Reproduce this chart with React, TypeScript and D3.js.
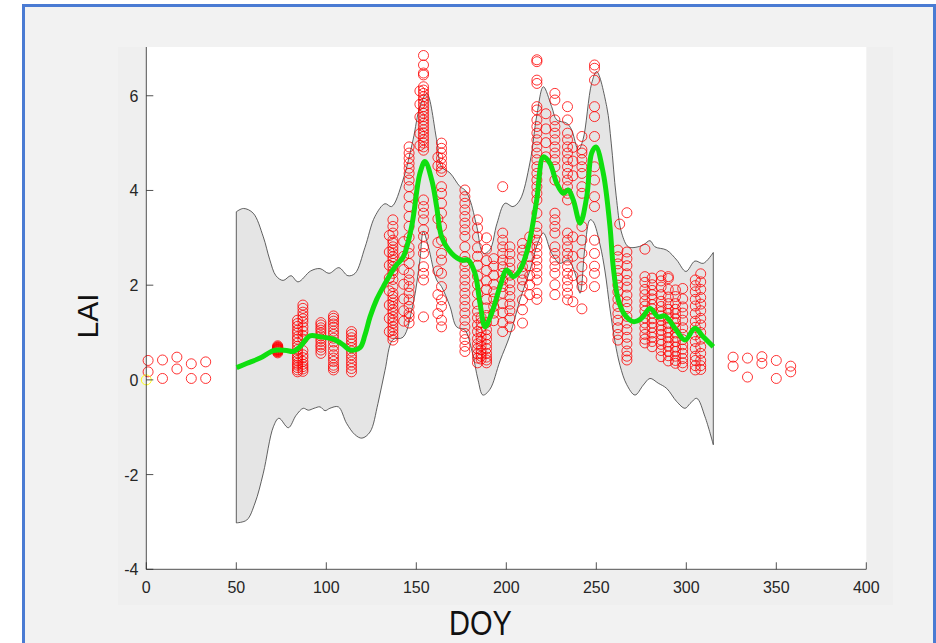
import React from 'react';
import * as d3 from 'd3';

// ---------- data ----------
const xTicks = [0, 50, 100, 150, 200, 250, 300, 350, 400];
const yTicks = [-4, -2, 0, 2, 4, 6];

const bandUpperDoy = [50, 54, 59.4, 65, 68.5, 72, 76, 80.4, 84.3, 91.3, 96.5, 101.5, 107, 112, 116, 121.5, 127, 132.6, 136.3, 142.6, 148.2, 152, 155.8, 161.3, 164, 168.7, 174.3, 177, 179.8, 183.6, 187.2, 190.9, 194.8, 199.3, 203.7, 207.6, 213.2, 217, 220.6, 225.2, 228, 233.6, 236.3, 240, 242.6, 247.4, 250.2, 255.8, 258.3, 261, 264.1, 267.8, 272, 276.1, 279.8, 282.6, 289.1, 294.7, 299.8, 304.8, 309.4, 315];
const bandUpperLai = [3.55, 3.62, 3.52, 3.02, 2.55, 2.2, 2.1, 2.2, 2.07, 2.3, 2.35, 2.25, 2.37, 2.2, 2.25, 2.8, 3.45, 3.72, 3.66, 4.22, 5.07, 5.77, 6.05, 5.07, 4.5, 4.37, 4.08, 4.01, 3.8, 3.24, 2.67, 2.75, 3.3, 3.73, 3.66, 3.8, 4.6, 5.6, 6.19, 5.77, 5.49, 5.42, 5.28, 4.86, 5.07, 6.26, 6.51, 5.77, 5.0, 3.9, 3.1, 2.81, 2.8, 2.85, 2.94, 2.81, 2.74, 2.53, 2.29, 2.51, 2.46, 2.69];

const bandLowerDoy = [50, 55.8, 60.4, 65, 70.6, 73.7, 78.9, 83.2, 87.2, 90, 93.2, 96.5, 99.3, 102, 106.7, 111.3, 116, 119.8, 124.3, 128.7, 132.6, 137, 142.6, 148.2, 152, 153.9, 156.7, 161.3, 164, 168.7, 172.4, 177, 181, 184.3, 187, 190.9, 196.5, 202, 207.6, 213.2, 217.6, 220.6, 225.2, 229.8, 234.4, 238.2, 241, 243.7, 246.5, 248.3, 252.1, 254.8, 257.6, 260.4, 263.2, 266.9, 271.5, 276.1, 279.8, 284.4, 289.1, 294.7, 299.3, 302.1, 305.8, 310.4, 315];
const bandLowerLai = [-3.02, -2.96, -2.6, -1.97, -0.99, -0.81, -1.01, -0.75, -0.6, -0.64, -0.6, -0.57, -0.65, -0.6, -0.57, -0.92, -1.16, -1.23, -1.1, -0.5, 0.2, 0.85, 0.9, 1.6, 2.53, 3.13, 2.81, 2.11, 1.97, 1.55, 1.12, 1.05, 0.6, 0.0, -0.32, -0.2, 0.4, 0.94, 1.69, 2.32, 2.9, 3.1, 2.67, 2.46, 2.53, 2.25, 1.83, 2.8, 3.38, 3.34, 2.85, 2.3, 1.5, 0.8, 0.3, -0.1, -0.32, -0.11, 0.03, -0.07, -0.18, -0.46, -0.6, -0.5, -0.39, -0.78, -1.37];

const meanDoy = [50.2, 56, 63.2, 70.6, 74.3, 78, 81.7, 85.4, 90.9, 96.5, 103.9, 109.4, 113.2, 118.7, 121.5, 124.3, 128, 131.7, 138.2, 142.8, 147.4, 152, 154.8, 158.6, 161.3, 164.1, 169.7, 175.2, 178.9, 182.6, 185.4, 188.2, 191.9, 196.5, 200.2, 203.9, 207.6, 212.2, 216.9, 220.6, 224.3, 228, 231.7, 234.4, 237.2, 241, 244.7, 247.4, 249.8, 253.9, 257.6, 259.4, 262.2, 265.9, 270.6, 275.2, 279.8, 284.4, 288.2, 293.7, 299.3, 304.8, 309.4, 315];
const meanLai = [0.26, 0.35, 0.46, 0.62, 0.63, 0.62, 0.6, 0.7, 0.93, 0.91, 0.86, 0.74, 0.63, 0.68, 0.95, 1.33, 1.7, 1.97, 2.39, 2.6, 3.24, 4.36, 4.61, 4.22, 3.66, 3.02, 2.67, 2.53, 2.53, 2.25, 1.62, 1.12, 1.41, 1.97, 2.32, 2.18, 2.32, 2.81, 3.8, 4.71, 4.57, 4.15, 3.94, 4.01, 3.8, 3.31, 3.87, 4.79, 4.92, 4.36, 3.24, 2.39, 1.69, 1.37, 1.23, 1.3, 1.51, 1.33, 1.35, 1.09, 0.84, 1.09, 0.91, 0.7];

const obsDoy = [1, 9, 17, 25, 33, 73, 84, 87, 97, 104, 114, 135, 137, 143, 146, 152, 154, 162, 164, 177, 184, 186, 189, 193, 198, 202, 209, 213, 217, 222, 227, 234, 237, 242, 249, 262, 263, 267, 277, 281, 286, 290, 294, 298, 305, 308, 326, 334, 342, 350, 358];
const obsLai = [
  [0.41, 0.17],
  [0.42, 0.03],
  [0.48, 0.23],
  [0.34, 0.03],
  [0.38, 0.03],
  [0.57, 0.59, 0.6, 0.62, 0.63, 0.64, 0.65, 0.66, 0.67, 0.68, 0.7, 0.72, 0.61, 0.64, 0.69],
  [1.26, 1.19, 1.13, 1.05, 0.99, 0.91, 0.86, 0.78, 0.71, 0.64, 0.57, 0.5, 0.46, 0.41, 0.35, 0.31, 0.26, 0.21, 0.17],
  [1.58, 1.51, 1.43, 1.36, 1.29, 1.22, 1.12, 1.03, 0.94, 0.86, 0.62, 0.53, 0.47, 0.39, 0.33, 0.28, 0.23, 0.18],
  [1.21, 1.16, 1.1, 1.05, 0.99, 0.93, 0.87, 0.81, 0.74, 0.69, 0.63, 0.56],
  [1.35, 1.3, 1.24, 1.18, 1.11, 1.03, 0.96, 0.88, 0.8, 0.71, 0.62, 0.53, 0.46, 0.39, 0.31, 0.26, 0.21],
  [1.02, 0.96, 0.89, 0.83, 0.76, 0.68, 0.61, 0.53, 0.46, 0.38, 0.31, 0.24, 0.17],
  [3.05, 2.7, 2.42, 2.15, 1.88, 1.58, 1.3, 1.02],
  [3.38, 3.24, 3.1, 2.95, 2.89, 2.81, 2.74, 2.67, 2.6, 2.53, 2.46, 2.39, 2.31, 2.25, 2.12, 1.97, 1.83, 1.76, 1.69, 1.62, 1.55, 1.48, 1.41, 1.33, 1.26, 1.2, 1.12, 1.05, 0.98, 0.91, 0.84],
  [2.92, 2.61, 2.33, 2.02, 1.71, 1.46, 1.24],
  [4.92, 4.79, 4.68, 4.57, 4.47, 4.36, 4.22, 4.08, 3.87, 3.66, 3.45, 3.24, 3.01, 2.8, 2.67, 2.46, 2.25, 2.11, 1.97, 1.83, 1.69, 1.55, 1.41, 1.33, 1.2],
  [6.1, 5.82, 5.55, 5.2, 4.95],
  [6.85, 6.65, 6.48, 6.44, 6.19, 6.12, 6.05, 5.98, 5.91, 5.84, 5.77, 5.7, 5.63, 5.56, 5.49, 5.42, 5.35, 5.28, 5.21, 5.14, 5.07, 5.0, 4.92, 4.85, 3.8, 3.66, 3.52, 3.38, 3.17, 3.03, 2.81, 2.67, 2.39, 2.25, 2.11, 1.33],
  [4.7, 4.52, 3.4, 2.9, 2.3, 1.8, 1.4],
  [5.0, 4.89, 4.79, 4.68, 4.57, 4.47, 4.4, 4.08, 3.94, 3.73, 3.52, 3.24, 2.95, 2.67, 2.53, 2.25, 1.97, 1.69, 1.55, 1.26, 1.12],
  [4.01, 3.87, 3.73, 3.59, 3.45, 3.31, 3.17, 3.03, 2.81, 2.6, 2.5, 2.39, 2.25, 2.11, 1.97, 1.83, 1.69, 1.55, 1.41, 1.26, 1.12, 0.98, 0.85, 0.71, 0.6],
  [3.38, 3.21, 3.02, 2.79, 2.61, 2.42, 2.19, 2.01, 1.82, 1.6, 1.45, 1.31, 1.16, 1.02, 0.87, 0.76, 0.66, 0.55, 0.46, 0.36],
  [1.32, 1.21, 1.1, 1.01, 0.9, 0.81, 0.72, 0.63, 0.56, 0.5, 0.44],
  [3.0, 2.76, 2.52, 2.31, 2.09, 1.91, 1.7, 1.52, 1.36, 1.21, 1.06, 0.95, 0.86, 0.75, 0.66, 0.56, 0.48, 0.42, 0.36],
  [2.56, 2.4, 2.21, 2.02, 1.86, 1.71, 1.55, 1.41, 1.25],
  [4.08, 3.1, 2.95, 2.81, 2.67, 2.53, 2.39, 2.25, 2.11, 1.97, 1.83, 1.61, 1.42, 1.21, 1.02],
  [2.81, 2.66, 2.5, 2.36, 2.21, 2.05, 1.9, 1.76, 1.6, 1.46, 1.3, 1.12],
  [2.88, 2.74, 2.6, 2.39, 2.25, 2.11, 1.97, 1.69, 1.48, 1.2],
  [3.02, 2.81, 2.6, 2.41, 2.2, 2.01, 1.8],
  [6.76, 6.72, 6.33, 6.26, 5.77, 5.7, 5.49, 5.35, 5.21, 5.07, 4.92, 4.79, 4.65, 4.5, 4.36, 4.22, 4.08, 3.94, 3.8, 3.52, 3.24, 3.1, 2.95, 2.81, 2.67, 2.53, 2.39, 2.25, 2.11, 1.83, 1.7],
  [5.62, 5.3, 5.01, 4.71],
  [6.05, 5.91, 5.49, 5.35, 5.21, 5.07, 4.92, 4.79, 4.65, 4.5, 4.22, 3.52, 3.38, 3.24, 3.1, 2.81, 2.67, 2.53, 2.39, 2.25, 2.01, 1.8],
  [5.77, 5.49, 5.21, 5.07, 4.92, 4.79, 4.65, 4.5, 4.36, 4.22, 4.08, 3.94, 3.8, 3.1, 2.95, 2.81, 2.67, 2.53, 2.39, 2.25, 2.11, 1.97, 1.83, 1.69],
  [4.91, 4.62, 4.31, 3.02, 2.61, 2.2, 1.65],
  [5.14, 4.86, 4.79, 4.65, 4.5, 4.36, 4.08, 3.94, 3.24, 2.95, 2.67, 2.39, 2.11, 1.97, 1.5],
  [6.65, 6.58, 6.33, 5.77, 5.56, 5.14, 4.5, 4.22, 3.87, 3.66, 2.95, 2.67, 2.4, 2.25, 1.97],
  [2.74, 2.6, 2.45, 2.31, 2.15, 2.0, 1.86, 1.7, 1.55, 1.4, 1.26, 1.1, 0.96, 0.84],
  [3.29],
  [3.53, 2.7, 2.56, 2.41, 2.24, 2.1, 1.96, 1.79, 1.65, 1.51, 1.34, 1.2, 1.06, 0.9, 0.76, 0.61, 0.5, 0.42],
  [2.76, 2.18, 2.06, 1.91, 1.8, 1.67, 1.56, 1.45, 1.31, 1.2, 1.09, 0.96, 0.86, 0.78],
  [2.15, 2.01, 1.89, 1.8, 1.71, 1.59, 1.5, 1.41, 1.29, 1.2, 1.11, 0.99, 0.9, 0.81, 0.7],
  [2.2, 2.09, 1.96, 1.8, 1.66, 1.55, 1.44, 1.35, 1.26, 1.14, 1.05, 0.96, 0.84, 0.75, 0.62, 0.49],
  [2.18, 2.14, 1.91, 1.75, 1.61, 1.49, 1.4, 1.31, 1.19, 1.1, 1.01, 0.89, 0.8, 0.71, 0.6, 0.51, 0.4],
  [1.9, 1.76, 1.61, 1.49, 1.4, 1.29, 1.21, 1.1, 0.99, 0.9, 0.81, 0.69, 0.6, 0.5, 0.41, 0.35],
  [1.93, 1.71, 1.54, 1.41, 1.26, 1.1, 0.96, 0.85, 0.74, 0.65, 0.56, 0.45, 0.36, 0.28],
  [2.11, 1.99, 1.86, 1.7, 1.56, 1.4, 1.24, 1.11, 0.95, 0.81, 0.66, 0.5, 0.41, 0.3, 0.21],
  [2.24, 2.07, 1.91, 1.74, 1.6, 1.46, 1.3, 1.16, 1.0, 0.86, 0.7, 0.56, 0.41, 0.3, 0.22],
  [0.48, 0.29],
  [0.46, 0.06],
  [0.49, 0.35],
  [0.41, 0.03],
  [0.29, 0.17],
];

const flagDoy = [0];
const flagLai = [0];

// ---------- component ----------
export default function App() {
  const W = 936;
  const H = 643;
  const x = d3.scaleLinear().domain([0, 400]).range([146.3, 866.3]);
  const y = d3.scaleLinear().domain([-4, 7]).range([569.3, 48.4]);
  const axTop = 47;

  type P = [number, number];
  const lineGen = d3
    .line<P>()
    .x((d) => x(d[0]))
    .y((d) => y(d[1]))
    .curve(d3.curveCatmullRom.alpha(0.5));

  const upperPts: P[] = bandUpperDoy.map((d, i) => [d, bandUpperLai[i]]);
  const lowerPts: P[] = bandLowerDoy.map((d, i) => [d, bandLowerLai[i]] as P).reverse();
  const bandPath = (lineGen(upperPts) || '') + (lineGen(lowerPts) || '').replace(/^M/, 'L') + 'Z';
  const meanPts: P[] = meanDoy.map((d, i) => [d, meanLai[i]]);
  const meanPath = lineGen(meanPts) || '';

  const pts: P[] = [];
  obsDoy.forEach((d, i) => obsLai[i].forEach((v) => pts.push([d, v])));

  const font = '"Liberation Sans", Arial, Helvetica, sans-serif';
  const tickColor = '#262626';

  return (
    <div style={{ position: 'absolute', left: 0, top: 0 }}>
      <svg width={W} height={H} style={{ display: 'block' }}>
        <rect x={0} y={0} width={W} height={H} fill="#ffffff" />
        <rect x={23.5} y={5.5} width={911} height={700} fill="#f2f2f2" stroke="#4a7bd3" strokeWidth={3} />
        <rect x={118} y={axTop} width={775} height={605 - axTop} fill="#efefef" />
        <rect x={x(0)} y={axTop} width={x(400) - x(0)} height={y(-4) - axTop} fill="#ffffff" />

        <path d={bandPath} fill="#e5e5e5" stroke="#3a3a3a" strokeWidth={0.8} />

        {pts.map((p, i) => (
          <circle key={i} cx={x(p[0])} cy={y(p[1])} r={5} fill="none" stroke="#ff0000" strokeWidth={0.8} />
        ))}
        {flagDoy.map((d, i) => (
          <circle key={'f' + i} cx={x(d)} cy={y(flagLai[i])} r={5} fill="none" stroke="#ffff00" strokeWidth={0.9} />
        ))}

        <path d={meanPath} fill="none" stroke="#0fdf0f" strokeWidth={5} strokeLinejoin="round" strokeLinecap="butt" />

        {/* axes */}
        <line x1={x(0)} x2={x(400)} y1={y(-4)} y2={y(-4)} stroke={tickColor} strokeWidth={0.8} />
        <line x1={x(0)} x2={x(0)} y1={axTop} y2={y(-4)} stroke={tickColor} strokeWidth={0.8} />
        {xTicks.map((t) => (
          <g key={'x' + t}>
            <line x1={x(t)} x2={x(t)} y1={y(-4)} y2={y(-4) - 7} stroke={tickColor} strokeWidth={0.8} />
            <text x={x(t)} y={593.3} textAnchor="middle" fontFamily={font} fontSize={16} fill={tickColor}>
              {t}
            </text>
          </g>
        ))}
        {yTicks.map((t) => (
          <g key={'y' + t}>
            <line x1={x(0)} x2={x(0) + 7} y1={y(t)} y2={y(t)} stroke={tickColor} strokeWidth={0.8} />
            <text x={138.5} y={y(t) + 6} textAnchor="end" fontFamily={font} fontSize={16} fill={tickColor}>
              {t}
            </text>
          </g>
        ))}

        <text
          x={0}
          y={0}
          textAnchor="middle"
          fontFamily={font}
          fontSize={29}
          fill="#111"
          transform="translate(480.5, 635) scale(1, 1.2)"
        >
          DOY
        </text>
        <text
          x={98}
          y={316}
          textAnchor="middle"
          fontFamily={font}
          fontSize={30}
          fill="#111"
          transform="rotate(-90, 98, 316)"
        >
          LAI
        </text>
      </svg>
    </div>
  );
}
